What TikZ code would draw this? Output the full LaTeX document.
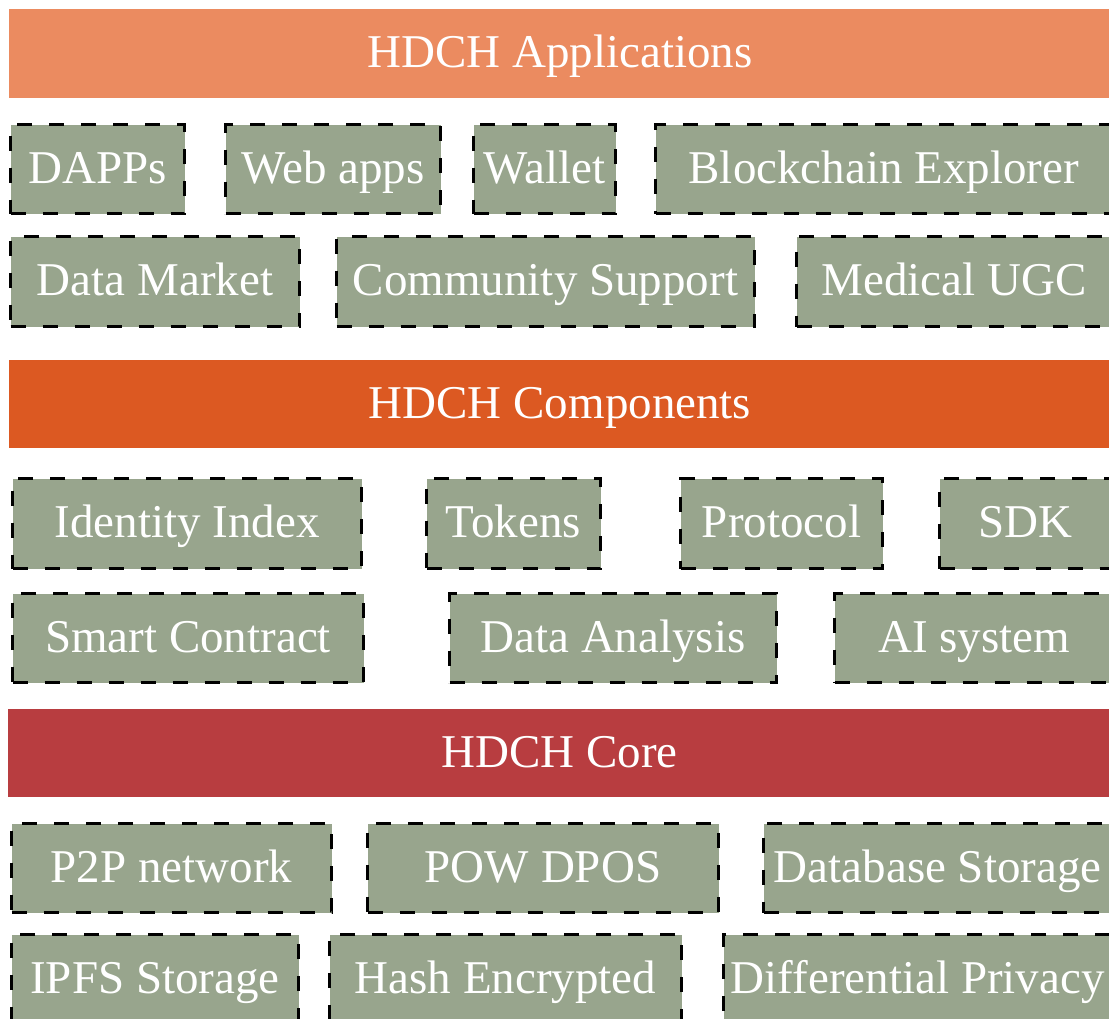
\documentclass[tikz,border=0pt]{standalone}
\usepackage{fontspec}
\setmainfont{Liberation Serif}
\definecolor{bannerA}{RGB}{235,139,96}
\definecolor{bannerB}{RGB}{220,89,34}
\definecolor{bannerC}{RGB}{184,61,64}
\definecolor{sage}{RGB}{152,165,141}
\tikzset{
  base/.style={rectangle, inner sep=0pt, text=white, font=\fontsize{47}{49}\selectfont,
    text height=32pt, text depth=4pt},
  banner/.style={base},
  gb/.style={base, fill=sage, draw=black, line width=3pt, dash pattern=on 15pt off 17pt},
}
\begin{document}
\begin{tikzpicture}[x=1pt,y=-1pt]
\useasboundingbox (0,0) rectangle (1109,1018);
\clip (0,0) rectangle (1109,1018);
\fill[white] (0,0) rectangle (1109,1018);
% banners
\foreach \n/\a/\b/\c/\d/\col/\t in {
  apps/9/9/1111/98/bannerA/HDCH Applications,
  comps/9/360/1111/448/bannerB/HDCH Components,
  core/8/709/1111/797/bannerC/HDCH Core}
{
  \node[banner, fill=\col, minimum width={(\c-\a)*1pt}, minimum height={(\d-\b)*1pt}]
    (\n) at ({(\a+\c)/2},{(\b+\d)/2}) {\t};
}
% boxes
\foreach \n/\a/\b/\c/\d/\t in {
  dapps/10.5/124.5/184.5/213.5/DAPPs,
  web/225.5/124.5/440.5/213.5/Web apps,
  wallet/473.5/124.5/615.5/213.5/Wallet,
  explorer/655.5/124.5/1112/213.5/Blockchain Explorer,
  market/10.5/236.5/299.5/326.5/Data Market,
  community/336.5/236.5/754.5/326.5/Community Support,
  ugc/796.5/236.5/1112/326.5/Medical UGC,
  identity/12.5/478.5/361.5/568.5/Identity Index,
  tokens/426.5/478.5/600.5/568.5/Tokens,
  protocol/680.5/478.5/882.5/568.5/Protocol,
  sdk/939.5/478.5/1112/568.5/SDK,
  smart/12.5/593.5/363.5/682.5/Smart Contract,
  analysis/449.5/593.5/776.5/682.5/Data Analysis,
  ai/834.5/593.5/1114/682.5/AI system,
  p2p/11.5/823.5/331.5/912.5/P2P network,
  pow/367.5/823.5/718.5/912.5/POW DPOS,
  db/763.5/823.5/1112/912.5/Database Storage,
  ipfs/11.5/934.5/298.5/1024/IPFS Storage,
  hash/329.5/934.5/681.5/1024/Hash Encrypted,
  dp/723.5/934.5/1112/1024/Differential Privacy}
{
  \node[gb, minimum width={(\c-\a)*1pt}, minimum height={(\d-\b)*1pt}]
    (\n) at ({(\a+\c)/2},{(\b+\d)/2}) {\t};
}
\end{tikzpicture}
\end{document}
